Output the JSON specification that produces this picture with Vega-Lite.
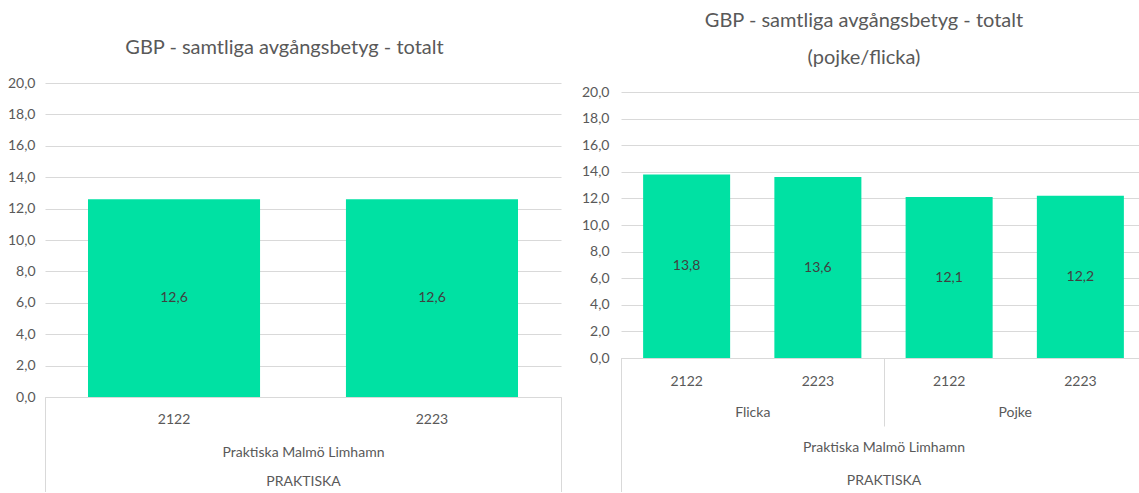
{
  "$schema": "https://vega.github.io/schema/vega-lite/v6.json",
  "padding": {"left": 7, "top": 11, "right": -8, "bottom": -2},
  "autosize": {"type": "pad"},
  "background": "white",
  "datasets": {
    "total": [
      {"school": "Praktiska Malmö Limhamn", "group": "PRAKTISKA", "year": "2122", "value": 12.6},
      {"school": "Praktiska Malmö Limhamn", "group": "PRAKTISKA", "year": "2223", "value": 12.6}
    ],
    "kon": [
      {"school": "Praktiska Malmö Limhamn", "group": "PRAKTISKA", "gender": "Flicka", "year": "2122", "key": "Flicka 2122", "value": 13.8},
      {"school": "Praktiska Malmö Limhamn", "group": "PRAKTISKA", "gender": "Flicka", "year": "2223", "key": "Flicka 2223", "value": 13.6},
      {"school": "Praktiska Malmö Limhamn", "group": "PRAKTISKA", "gender": "Pojke", "year": "2122", "key": "Pojke 2122", "value": 12.1},
      {"school": "Praktiska Malmö Limhamn", "group": "PRAKTISKA", "gender": "Pojke", "year": "2223", "key": "Pojke 2223", "value": 12.2}
    ]
  },
  "spacing": 19,
  "hconcat": [
    {
      "width": 516,
      "height": 314,
      "title": {"text": "GBP - samtliga avgångsbetyg - totalt", "offset": 18},
      "data": {"name": "total"},
      "layer": [
        {
          "mark": {"type": "bar", "color": "#00E1A3"},
          "encoding": {
            "x": {"field": "year", "type": "nominal", "sort": null,
              "scale": {"paddingInner": 0.333, "paddingOuter": 0.1667},
              "axis": {"orient": "bottom", "title": null, "ticks": false, "domain": true, "labelPadding": 15, "labelAngle": 0}},
            "y": {"field": "value", "type": "quantitative",
              "scale": {"domain": [0, 20], "nice": false},
              "axis": {"orient": "left", "title": null, "values": [0, 2, 4, 6, 8, 10, 12, 14, 16, 18, 20], "format": ".1f", "domain": false, "ticks": false, "grid": true, "labelPadding": 10}}
          }
        },
        {
          "mark": {"type": "text", "fontSize": 14, "color": "#404040", "baseline": "middle"},
          "encoding": {
            "x": {"field": "year", "type": "nominal", "sort": null,
              "scale": {"paddingInner": 0.333, "paddingOuter": 0.1667}, "axis": null},
            "y": {"field": "value", "type": "quantitative", "scale": {"domain": [0, 40], "nice": false}, "axis": null},
            "text": {"field": "value", "type": "quantitative", "format": ".1f"}
          }
        },
        {
          "mark": {"type": "point", "opacity": 0},
          "encoding": {
            "x": {"field": "school", "type": "nominal",
              "scale": {"paddingInner": 0, "paddingOuter": 0},
              "axis": {"orient": "bottom", "title": null, "grid": false, "domain": false, "ticks": true, "tickBand": "extent", "tickSize": 96, "labelPadding": -48, "labelAngle": 0}},
            "y": {"field": "value", "type": "quantitative", "scale": {"domain": [0, 20], "nice": false}, "axis": null}
          }
        },
        {
          "mark": {"type": "point", "opacity": 0},
          "encoding": {
            "x": {"field": "group", "type": "nominal",
              "scale": {"paddingInner": 0, "paddingOuter": 0},
              "axis": {"orient": "bottom", "title": null, "grid": false, "domain": false, "ticks": false, "labelPadding": 77, "labelAngle": 0}},
            "y": {"field": "value", "type": "quantitative", "scale": {"domain": [0, 20], "nice": false}, "axis": null}
          }
        }
      ],
      "resolve": {"scale": {"x": "independent", "y": "independent"}, "axis": {"x": "independent", "y": "independent"}}
    },
    {
      "width": 525,
      "height": 275,
      "title": {"text": ["GBP - samtliga avgångsbetyg - totalt", "(pojke/flicka)"], "lineHeight": 37, "offset": 15},
      "data": {"name": "kon"},
      "layer": [
        {
          "mark": {"type": "bar", "color": "#00E1A3"},
          "encoding": {
            "x": {"field": "key", "type": "nominal", "sort": null,
              "scale": {"paddingInner": 0.337, "paddingOuter": 0.1685},
              "axis": {"orient": "bottom", "title": null, "ticks": false, "domain": true, "labelPadding": 16, "labelAngle": 0, "labelExpr": "split(datum.label, ' ')[1]"}},
            "y": {"field": "value", "type": "quantitative",
              "scale": {"domain": [0, 20], "nice": false, "range": [275, 9]},
              "axis": {"orient": "left", "title": null, "values": [0, 2, 4, 6, 8, 10, 12, 14, 16, 18, 20], "format": ".1f", "domain": false, "ticks": false, "grid": true, "labelPadding": 12}}
          }
        },
        {
          "mark": {"type": "text", "fontSize": 14, "color": "#404040", "baseline": "middle"},
          "encoding": {
            "x": {"field": "key", "type": "nominal", "sort": null,
              "scale": {"paddingInner": 0.337, "paddingOuter": 0.1685}, "axis": null},
            "y": {"field": "value", "type": "quantitative", "scale": {"domain": [0, 40], "nice": false, "range": [275, 9]}, "axis": null},
            "text": {"field": "value", "type": "quantitative", "format": ".1f"}
          }
        },
        {
          "mark": {"type": "point", "opacity": 0},
          "encoding": {
            "x": {"field": "gender", "type": "nominal",
              "scale": {"paddingInner": 0, "paddingOuter": 0},
              "axis": {"orient": "bottom", "title": null, "grid": false, "domain": false, "ticks": true, "tickBand": "extent", "tickSize": 68, "labelPadding": -21, "labelAngle": 0}},
            "y": {"field": "value", "type": "quantitative", "scale": {"domain": [0, 20], "nice": false, "range": [275, 9]}, "axis": null}
          }
        },
        {
          "mark": {"type": "point", "opacity": 0},
          "encoding": {
            "x": {"field": "school", "type": "nominal",
              "scale": {"paddingInner": 0, "paddingOuter": 0},
              "axis": {"orient": "bottom", "title": null, "grid": false, "domain": false, "ticks": true, "tickBand": "extent", "tickSize": 135, "labelPadding": -53, "labelAngle": 0}},
            "y": {"field": "value", "type": "quantitative", "scale": {"domain": [0, 20], "nice": false, "range": [275, 9]}, "axis": null}
          }
        },
        {
          "mark": {"type": "point", "opacity": 0},
          "encoding": {
            "x": {"field": "group", "type": "nominal",
              "scale": {"paddingInner": 0, "paddingOuter": 0},
              "axis": {"orient": "bottom", "title": null, "grid": false, "domain": false, "ticks": false, "labelPadding": 115, "labelAngle": 0}},
            "y": {"field": "value", "type": "quantitative", "scale": {"domain": [0, 20], "nice": false, "range": [275, 9]}, "axis": null}
          }
        }
      ],
      "resolve": {"scale": {"x": "independent", "y": "independent"}, "axis": {"x": "independent", "y": "independent"}}
    }
  ],
  "config": {
    "locale": {"number": {"decimal": ",", "thousands": " ", "grouping": [3], "currency": ["", " kr"]}},
    "font": "Lato",
    "view": {"stroke": null},
    "title": {"font": "Lato", "fontSize": 20, "fontWeight": "normal", "color": "#595959", "anchor": "middle", "frame": "bounds"},
    "axis": {"labelFont": "Lato", "labelFontSize": 14, "labelColor": "#595959", "gridColor": "#d9d9d9", "domainColor": "#d9d9d9", "tickColor": "#d9d9d9", "labelOverlap": false},
    "text": {"font": "Lato"}
  }
}
